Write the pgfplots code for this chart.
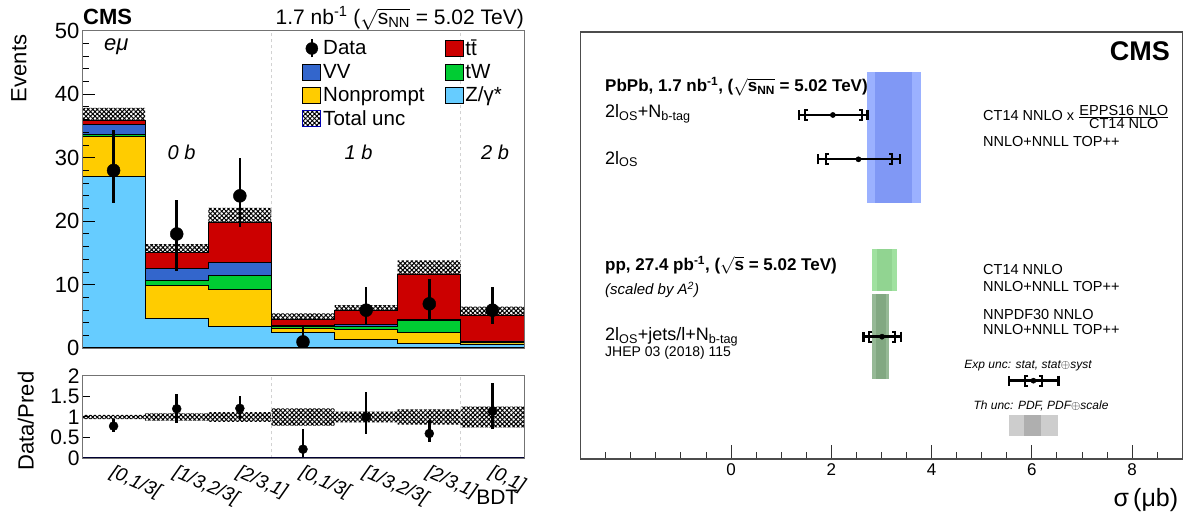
\documentclass[border=0pt]{standalone}
\usepackage{fontspec}
\setmainfont{Liberation Sans}
\usepackage{pgfplots}
\pgfplotsset{compat=1.18}
\usepackage{pgfplotstable}
\usepgfplotslibrary{fillbetween}
\usetikzlibrary{patterns.meta}
\newcommand{\fs}[1]{\fontsize{#1}{#1}\selectfont}
\definecolor{ttred}{RGB}{204,0,0}
\definecolor{vvblue}{RGB}{51,102,204}
\definecolor{twgreen}{RGB}{0,204,51}
\definecolor{npyellow}{RGB}{255,204,0}
\definecolor{zblue}{RGB}{102,204,255}
\definecolor{bandblueA}{RGB}{155,177,255}
\definecolor{bandblueB}{RGB}{128,152,245}
\definecolor{bandgreenA}{RGB}{160,225,160}
\definecolor{bandgreenB}{RGB}{145,212,145}
\definecolor{bandgreyA}{RGB}{150,185,150}
\definecolor{bandgreyB}{RGB}{130,168,130}
\definecolor{thgreyA}{RGB}{205,205,205}
\definecolor{thgreyB}{RGB}{175,175,175}
\pgfdeclareplotmark{lbr}{%
  \pgfpathmoveto{\pgfqpoint{0.6\pgfplotmarksize}{\pgfplotmarksize}}%
  \pgfpathlineto{\pgfqpoint{0pt}{\pgfplotmarksize}}%
  \pgfpathlineto{\pgfqpoint{0pt}{-\pgfplotmarksize}}%
  \pgfpathlineto{\pgfqpoint{0.6\pgfplotmarksize}{-\pgfplotmarksize}}%
  \pgfusepathqstroke}
\pgfdeclareplotmark{rbr}{%
  \pgfpathmoveto{\pgfqpoint{-0.6\pgfplotmarksize}{\pgfplotmarksize}}%
  \pgfpathlineto{\pgfqpoint{0pt}{\pgfplotmarksize}}%
  \pgfpathlineto{\pgfqpoint{0pt}{-\pgfplotmarksize}}%
  \pgfpathlineto{\pgfqpoint{-0.6\pgfplotmarksize}{-\pgfplotmarksize}}%
  \pgfusepathqstroke}
\pgfplotsset{
  boxleg/.style={legend image code/.code={\draw[##1,line width=0.8pt] (0pt,-8pt) rectangle (18pt,8pt);}},
  dataleg/.style={legend image code/.code={\draw[black,line width=2.5pt] (9pt,-9pt) -- (9pt,9pt); \fill[black] (9pt,0pt) circle (6pt);}},
}
\pgfplotstableread{
x   z     np    tw    vv    tot    lo     hi
0   27.1  33.3  33.7  35.2  35.9   33.95  37.85
1   4.66  9.86  10.7  12.6  15.05  13.7   16.4
2   3.5   9.3   11.4  13.5  19.8   17.5   22.1
3   2.5   3.2   3.4   3.55  4.56   3.61   5.51
4   1.4   2.9   3.5   3.8   6.0    5.2    6.8
5   0.8   2.45  4.35  4.55  11.7   9.55   13.85
6   0.68  0.85  1.05  1.15  5.25   3.95   6.55
7   0.68  0.85  1.05  1.15  5.25   3.95   6.55
}\stack
\pgfplotstableread{
x    y   ep   em
0.5  28  6.3  5.2
1.5  18  5.4  5.8
2.5  24  6.0  4.9
3.5  1   2.3  0.83
4.5  6   3.6  2.4
5.5  7   3.9  2.5
6.5  6   3.6  2.2
}\data
\pgfplotstableread{
x    r     ep     em
0.5  0.78  0.175  0.145
1.5  1.20  0.35   0.35
2.5  1.21  0.31   0.25
3.5  0.22  0.50   0.18
4.5  1.00  0.60   0.40
5.5  0.60  0.33   0.215
6.5  1.14  0.69   0.42
}\ratio
\pgfplotstableread{
x  lo     hi
0  0.946  1.054
1  0.91   1.09
2  0.884  1.116
3  0.79   1.21
4  0.867  1.133
5  0.816  1.184
6  0.75   1.25
7  0.75   1.25
}\rband
\pgfplotstableread{
y      v     ep    em    sl    sh
344    2.03  0.69  0.67  1.47  2.62
299.7  2.54  0.83  0.80  1.89  3.21
122.3  3.01  0.38  0.37  2.76  3.27
78.3   6.03  0.50  0.48  5.87  6.20
}\meas
\begin{document}
\begin{tikzpicture}
% ---------------- main panel
\begin{axis}[
  at={(82pt,170.7pt)}, anchor=south west, scale only axis,
  width=442pt, height=317.6pt,
  xmin=0, xmax=7, ymin=0, ymax=50,
  axis on top,
  axis line style={black!55, line width=0.9pt},
  major tick length=13pt, minor tick length=7pt,
  tick style={black, line width=1pt},
  xtick=\empty, minor xtick={1,2,3,4,5,6},
  ytick={0,10,20,30,40,50}, minor ytick={2,4,6,8,12,14,16,18,22,24,26,28,32,34,36,38,42,44,46,48},
  xtick pos=left, ytick pos=left,
  /pgf/number format/assume math mode=true,
  yticklabel style={font=\fs{22}, xshift=1pt},
  ylabel={Events},
  ylabel style={at={(axis description cs:-0.1425,0.998)}, anchor=east, font=\fs{22}},
  legend columns=2,
  legend cell align=left,
  legend style={at={(axis description cs:0.4915,0.985)}, anchor=north west, draw=none, fill=none,
    font=\fs{20.5}, row sep=3pt, nodes={inner sep=2pt},
    /tikz/column 2/.style={column sep=18pt}},
]
\addplot[gray!35, dashed, line width=1pt, forget plot] coordinates {(3,0) (3,50)};
\addplot[gray!35, dashed, line width=1pt, forget plot] coordinates {(6,0) (6,50)};
\addplot[const plot, fill=ttred, draw=black, line width=0.8pt, forget plot] table[x=x,y=tot]{\stack} \closedcycle;
\addplot[const plot, fill=vvblue, draw=black, line width=0.8pt, forget plot] table[x=x,y=vv]{\stack} \closedcycle;
\addplot[const plot, fill=twgreen, draw=black, line width=0.8pt, forget plot] table[x=x,y=tw]{\stack} \closedcycle;
\addplot[const plot, fill=npyellow, draw=black, line width=0.8pt, forget plot] table[x=x,y=np]{\stack} \closedcycle;
\addplot[const plot, fill=zblue, draw=black, line width=0.8pt, forget plot] table[x=x,y=z]{\stack} \closedcycle;
\addplot[const plot, draw=none, name path=uhi, forget plot] table[x=x,y=hi]{\stack};
\addplot[const plot, draw=none, name path=ulo, forget plot] table[x=x,y=lo]{\stack};
\addplot[pattern={Hatch[angle=45,distance=3.2pt,line width=1pt]}, pattern color=black, forget plot] fill between[of=uhi and ulo];
\addplot[only marks, mark=*, mark size=6.5pt, black, forget plot,
  error bars/.cd, y dir=both, y explicit, error mark=none, error bar style={line width=2.5pt, black}]
  table[x=x, y=y, y error plus=ep, y error minus=em]{\data};
\addlegendimage{dataleg}\addlegendentry{Data}
\addlegendimage{boxleg, fill=ttred, draw=black}\addlegendentry{t\={t}}
\addlegendimage{boxleg, fill=vvblue, draw=black}\addlegendentry{VV}
\addlegendimage{boxleg, fill=twgreen, draw=black}\addlegendentry{tW}
\addlegendimage{boxleg, fill=npyellow, draw=black}\addlegendentry{Nonprompt}
\addlegendimage{boxleg, fill=zblue, draw=black}\addlegendentry{Z/γ*}
\addlegendimage{boxleg, pattern={Hatch[angle=45,distance=3.2pt,line width=1pt]}, pattern color=black, draw=blue!70!black}\addlegendentry{Total unc}
\draw[black, line width=1.8pt] (rel axis cs:0,1) -- (rel axis cs:0,0) -- (rel axis cs:1,0);
\end{axis}
% ---------------- ratio panel
\begin{axis}[
  at={(82pt,60.7pt)}, anchor=south west, scale only axis,
  width=442pt, height=82.6pt,
  xmin=0, xmax=7, ymin=0, ymax=2,
  axis on top,
  axis line style={black!55, line width=0.9pt},
  major tick length=8pt, minor tick length=4pt,
  tick style={black, line width=1pt},
  xtick={0.5,1.5,2.5,3.5,4.5,5.5,6.5},
  xticklabels={{[0,1/3[},{[1/3,2/3[},{[2/3,1]},{[0,1/3[},{[1/3,2/3[},{[2/3,1]},{[0,1]}},
  x tick style={draw=none},
  minor xtick={1,2,3,4,5,6},
  ytick={0,0.5,1,1.5,2},
  xtick pos=left, ytick pos=left,
  /pgf/number format/assume math mode=true,
  yticklabel style={font=\fs{21}, xshift=1pt},
  xticklabel style={font=\fs{19}\itshape, rotate=-24, anchor=north west, xshift=0pt, yshift=-1pt},
  ylabel={Data/Pred},
  ylabel style={at={(axis description cs:-0.127,0.45)}, anchor=center, font=\fs{22}},
  xlabel={BDT},
  xlabel style={at={(axis description cs:0.995,-0.47)}, anchor=east, font=\fs{21}},
]
\addplot[gray!35, dashed, line width=1pt, forget plot] coordinates {(3,0) (3,2)};
\addplot[gray!35, dashed, line width=1pt, forget plot] coordinates {(6,0) (6,2)};
\addplot[const plot, draw=none, name path=rhi, forget plot] table[x=x,y=hi]{\rband};
\addplot[const plot, draw=none, name path=rlo, forget plot] table[x=x,y=lo]{\rband};
\addplot[pattern={Hatch[angle=45,distance=3.2pt,line width=1pt]}, pattern color=black, forget plot] fill between[of=rhi and rlo];
\addplot[only marks, mark=*, mark size=4.5pt, black, forget plot,
  error bars/.cd, y dir=both, y explicit, error mark=none, error bar style={line width=2.5pt, black}]
  table[x=x, y=r, y error plus=ep, y error minus=em]{\ratio};
\draw[black!80!blue, line width=1.8pt] (rel axis cs:0,1) -- (rel axis cs:0,0) -- (rel axis cs:1,0);
\end{axis}
% ---------------- right panel
\begin{axis}[
  at={(580.7pt,60pt)}, anchor=south west, scale only axis,
  width=601.6pt, height=427pt,
  xmin=-3, xmax=9, ymin=0, ymax=427,
  axis line style={black!70, line width=1.2pt},
  major tick length=14pt, minor tick length=7pt,
  tick style={black!80, line width=1pt},
  xtick={0,2,4,6,8},
  minor xtick={-2.5,-2,-1.5,-1,-0.5,0.5,1,1.5,2.5,3,3.5,4.5,5,5.5,6.5,7,7.5,8.5},
  ytick=\empty,
  xtick pos=left,
  /pgf/number format/assume math mode=true,
  xticklabel style={font=\fs{17}, yshift=-1pt},
  xlabel={σ\,(μb)},
  xlabel style={at={(axis description cs:0.999,-0.096)}, anchor=east, font=\fs{25}},
]
\addplot[fill=bandblueA, draw=none, forget plot] coordinates {(2.72,256.3) (3.78,256.3) (3.78,387) (2.72,387)};
\addplot[fill=bandblueB, draw=none, forget plot] coordinates {(2.87,256.3) (3.61,256.3) (3.61,387) (2.87,387)};
\addplot[fill=bandgreenA, draw=none, forget plot] coordinates {(2.82,168.3) (3.30,168.3) (3.30,209.7) (2.82,209.7)};
\addplot[fill=bandgreenB, draw=none, forget plot] coordinates {(2.92,168.3) (3.21,168.3) (3.21,209.7) (2.92,209.7)};
\addplot[fill=bandgreyA, draw=none, forget plot] coordinates {(2.82,79.7) (3.15,79.7) (3.15,165) (2.82,165)};
\addplot[fill=bandgreyB, draw=none, forget plot] coordinates {(2.89,79.7) (3.09,79.7) (3.09,165) (2.89,165)};
\addplot[fill=thgreyA, draw=none, forget plot] coordinates {(5.55,23) (6.53,23) (6.53,44) (5.55,44)};
\addplot[fill=thgreyB, draw=none, forget plot] coordinates {(5.85,23) (6.18,23) (6.18,44) (5.85,44)};
\addplot[only marks, mark=*, mark size=2.6pt, black, forget plot,
  error bars/.cd, x dir=both, x explicit, error mark=|,
  error bar style={line width=2.4pt, black},
  error mark options={line width=2.2pt, mark size=5pt, black}]
  table[x=v, y=y, x error plus=ep, x error minus=em]{\meas};
\addplot[only marks, mark=lbr, mark size=5pt, black, mark options={line width=2pt}, forget plot] table[x=sl, y=y]{\meas};
\addplot[only marks, mark=rbr, mark size=5pt, black, mark options={line width=2pt}, forget plot] table[x=sh, y=y]{\meas};
\end{axis}
% ---------------- texts, left
\node[anchor=west, font=\fs{22}\bfseries, inner sep=0pt] at (83pt,501.7pt) {CMS};
\node[anchor=east, font=\fs{21}, inner sep=0pt] at (524pt,500.5pt) {1.7 nb\textsuperscript{-1} ($\sqrt{\mbox{s\textsubscript{NN}}}$ = 5.02 TeV)};
\node[anchor=west, font=\fs{22}\itshape, inner sep=0pt] at (104pt,472.3pt) {eμ};
\node[font=\fs{20}\itshape, inner sep=0pt] at (181.5pt,366.3pt) {0 b};
\node[font=\fs{20}\itshape, inner sep=0pt] at (358.5pt,366.3pt) {1 b};
\node[font=\fs{20}\itshape, inner sep=0pt] at (495pt,366.3pt) {2 b};
% ---------------- texts, right
\node[anchor=east, font=\fs{27}\bfseries, inner sep=0pt] at (1170pt,467.3pt) {CMS};
\node[anchor=west, font=\fs{17}\bfseries, inner sep=0pt] at (605pt,432.3pt) {PbPb, 1.7 nb\textsuperscript{-1}, ($\sqrt{\mbox{s\textsubscript{NN}}}$ = 5.02 TeV)};
\node[anchor=west, font=\fs{18}, inner sep=0pt] at (605pt,405pt) {2l\textsubscript{OS}+N\textsubscript{b-tag}};
\node[anchor=west, font=\fs{18}, inner sep=0pt] at (605pt,360pt) {2l\textsubscript{OS}};
\node[anchor=west, font=\fs{17}\bfseries, inner sep=0pt] at (605pt,254pt) {pp, 27.4 pb\textsuperscript{-1}, ($\sqrt{\mbox{s}}$ = 5.02 TeV)};
\node[anchor=west, font=\fs{15}\itshape, inner sep=0pt] at (605pt,229pt) {(scaled by A\textsuperscript{2})};
\node[anchor=west, font=\fs{18}, inner sep=0pt] at (605pt,182pt) {2l\textsubscript{OS}+jets/l+N\textsubscript{b-tag}};
\node[anchor=west, font=\fs{14}, inner sep=0pt] at (605pt,165.7pt) {JHEP 03 (2018) 115};
\node[anchor=west, font=\fs{14.5}, inner sep=0pt] at (983pt,402.3pt) {CT14 NNLO x $\frac{\mbox{EPPS16 NLO}}{\mbox{CT14 NLO}}$};
\node[anchor=west, font=\fs{14.5}, inner sep=0pt] at (983pt,377.3pt) {NNLO+NNLL TOP++};
\node[anchor=west, font=\fs{14.5}, inner sep=0pt] at (983pt,249pt) {CT14 NNLO};
\node[anchor=west, font=\fs{14.5}, inner sep=0pt] at (983pt,232.3pt) {NNLO+NNLL TOP++};
\node[anchor=west, font=\fs{14.5}, inner sep=0pt] at (983pt,204pt) {NNPDF30 NNLO};
\node[anchor=west, font=\fs{14.5}, inner sep=0pt] at (983pt,189pt) {NNLO+NNLL TOP++};
\node[font=\fs{12}\itshape, inner sep=0pt] at (1028pt,153pt) {Exp unc: stat, stat$\oplus$syst};
\node[font=\fs{12}\itshape, inner sep=0pt] at (1041pt,113pt) {Th unc: PDF, PDF$\oplus$scale};
\pgfresetboundingbox
\useasboundingbox (0,0) rectangle (1186pt,519pt);
\end{tikzpicture}
\end{document}
